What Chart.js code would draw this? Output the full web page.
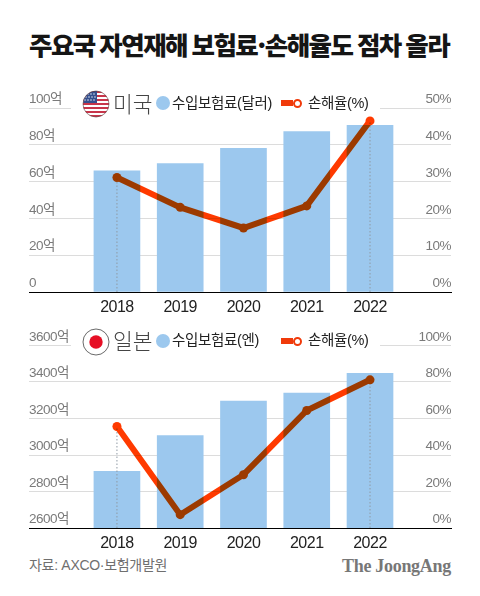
<!DOCTYPE html>
<html lang="ko"><head><meta charset="utf-8">
<script src="https://cdn.jsdelivr.net/npm/chart.js@4"></script>
<style>
html,body{margin:0;padding:0;background:#fff;}
body{width:480px;height:596px;position:relative;overflow:hidden;font-family:"Liberation Sans","Noto Sans CJK KR",sans-serif;}
.abs{position:absolute;white-space:nowrap;line-height:1;}
canvas{position:absolute;left:0;}
.mask{position:absolute;background:#fff;left:71px;width:309px;height:8px;}
.country{font-size:21.5px;color:#444;font-family:"Noto Sans CJK KR";font-weight:300;}
.lg{font-size:14.5px;color:#222;font-family:"Liberation Sans","Noto Sans CJK KR";letter-spacing:-.35px;}
.dot{position:absolute;width:14px;height:14px;border-radius:50%;background:#9cc8ee;}
.bar{position:absolute;width:12px;height:6px;background:#f03a0a;}
.ring{position:absolute;width:5px;height:5px;border-radius:50%;background:#fff;border:2.5px solid #f03a0a;}
</style></head><body>
<div style="position:absolute;left:0;top:80px;width:480px;height:240px"><canvas id="us" width="480" height="240" style="width:480px;height:240px"></canvas></div>
<div style="position:absolute;left:0;top:320px;width:480px;height:232px"><canvas id="jp" width="480" height="232" style="width:480px;height:232px"></canvas></div>
<div class="abs" id="title" style="left:29px;top:25px;font:900 25.5px 'Noto Sans CJK KR';color:#151515;letter-spacing:-1.55px;word-spacing:-1px;">주요국 자연재해 보험료·손해율도 점차 올라</div>

<div class="mask" style="top:105px"></div>
<svg class="abs" style="left:82px;top:90px" width="28" height="28" viewBox="0 0 28 28">
<defs><clipPath id="c"><circle cx="14" cy="14" r="13"/></clipPath></defs>
<g clip-path="url(#c)"><rect width="28" height="28" fill="#fff"/>
<rect y="1" width="28" height="2" fill="#c8354a"/><rect y="5" width="28" height="2" fill="#c8354a"/><rect y="9" width="28" height="2" fill="#c8354a"/><rect y="13" width="28" height="2" fill="#c8354a"/><rect y="17" width="28" height="2" fill="#c8354a"/><rect y="21" width="28" height="2" fill="#c8354a"/><rect y="25" width="28" height="2" fill="#c8354a"/>
<rect width="15" height="13" fill="#35508f"/></g>
<g fill="#fff"><circle cx="6" cy="4" r=".7"/><circle cx="9" cy="4" r=".7"/><circle cx="12" cy="4" r=".7"/><circle cx="4" cy="7" r=".7"/><circle cx="7" cy="7" r=".7"/><circle cx="10" cy="7" r=".7"/><circle cx="13" cy="7" r=".7"/><circle cx="3" cy="10" r=".7"/><circle cx="6" cy="10" r=".7"/><circle cx="9" cy="10" r=".7"/><circle cx="12" cy="10" r=".7"/></g>
<circle cx="14" cy="14" r="13" fill="none" stroke="#5a3a3a" stroke-width=".6"/></svg>
<div class="abs country" style="left:113px;top:92px">미국</div>
<div class="dot" style="left:156px;top:96px"></div>
<div class="abs lg" style="left:172px;top:96px">수입보험료(달러)</div>
<div class="bar" style="left:281px;top:100px"></div><div class="ring" style="left:293px;top:99px"></div>
<div class="abs lg" style="left:308px;top:96px">손해율(%)</div>

<div class="mask" style="top:342px"></div>
<svg class="abs" style="left:82px;top:328px" width="28" height="28" viewBox="0 0 28 28"><circle cx="14" cy="14" r="13" fill="#fff" stroke="#444" stroke-width=".8"/><circle cx="14" cy="14" r="6.7" fill="#e60f25"/></svg>
<div class="abs country" style="left:113px;top:329px">일본</div>
<div class="dot" style="left:156px;top:334px"></div>
<div class="abs lg" style="left:172px;top:333px">수입보험료(엔)</div>
<div class="bar" style="left:281px;top:338px"></div><div class="ring" style="left:293px;top:337px"></div>
<div class="abs lg" style="left:308px;top:333px">손해율(%)</div>

<div class="abs" style="left:29px;top:558px;font-size:14px;color:#6f6f6f;letter-spacing:-.3px;">자료: AXCO·보험개발원</div>
<div class="abs" style="left:342px;top:556px;font:700 18px 'Liberation Serif';color:#777;letter-spacing:-.3px;">The JoongAng</div>

<script>
const years = [2018, 2019, 2020, 2021, 2022];
const usPremium = [65.9, 69.8, 78.1, 87.2, 90.6];
const usLossRatio = [31.1, 23.0, 17.4, 23.4, 46.5];
const jpPremium = [2910, 3107, 3295, 3339, 3447];
const jpLossRatio = [55.6, 7.3, 29.2, 64.4, 81.2];
const usLeftTicks = [0, 20, 40, 60, 80, 100];
const usRightTicks = [0, 10, 20, 30, 40, 50];
const jpLeftTicks = [2600, 2800, 3000, 3200, 3400, 3600];
const jpRightTicks = [0, 20, 40, 60, 80, 100];
const dropYears = [2018, 2022];

const FONT = '"Liberation Sans","Noto Sans CJK KR",sans-serif';
const blend = {
  id: 'blend',
  beforeDraw(c) { c.ctx.letterSpacing = '-0.5px'; },
  beforeDatasetDraw(c, a) { if (c.data.datasets[a.index].label === '손해율(%)') { c.ctx.save(); c.ctx.globalCompositeOperation = 'darken'; } },
  afterDatasetDraw(c, a) { if (c.data.datasets[a.index].label === '손해율(%)') c.ctx.restore(); }
};

function build(id, premium, ratio, leftTicks, rightTicks, leftFmt, topPad, xH) {
  const drops = dropYears.map(yr => ({
    type: 'line', label: 'drop' + yr, yAxisID: 'yR', order: 2, pointRadius: 0,
    borderColor: '#8f9aa5', borderWidth: 1, borderDash: [1.5, 2],
    data: [{ x: yr, y: rightTicks[0] }, { x: yr, y: ratio[years.indexOf(yr)] }]
  }));
  new Chart(document.getElementById(id), {
    data: { datasets: [
      { type: 'bar', label: '수입보험료', yAxisID: 'yL', order: 3, backgroundColor: '#9cc8ee', barThickness: 46,
        data: years.map((x, i) => ({ x, y: premium[i] })) },
      ...drops,
      { type: 'line', label: '손해율(%)', yAxisID: 'yR', order: 1, borderColor: '#ff3a00', backgroundColor: '#ff3a00',
        borderWidth: 6, pointRadius: 4.5, pointBackgroundColor: '#ff3a00', pointBorderWidth: 0, tension: 0, clip: false,
        data: years.map((x, i) => ({ x, y: ratio[i] })) }
    ] },
    plugins: [blend],
    options: {
      responsive: false, animation: false, events: [],
      layout: { padding: { left: 29, right: 29, top: topPad, bottom: 0 } },
      plugins: { legend: { display: false }, tooltip: { enabled: false } },
      scales: {
        x: { type: 'linear', offset: false, min: 2016.61, max: 2023.28,
          afterBuildTicks: ax => { ax.ticks = years.map(value => ({ value })); },
          afterFit: ax => { ax.height = xH; },
          grid: { display: false, drawTicks: false, offset: false },
          border: { display: true, color: '#000', width: 1 },
          ticks: { callback: v => String(v), autoSkip: false, maxRotation: 0, padding: 6, color: '#222', font: { family: FONT, size: 16 } } },
        yL: { type: 'linear', position: 'left', min: leftTicks[0], max: leftTicks[leftTicks.length - 1],
          afterBuildTicks: ax => { ax.ticks = leftTicks.map(value => ({ value })); },
          grid: { color: '#dcdcdc', lineWidth: 1, drawTicks: false }, border: { display: false },
          ticks: { mirror: true, padding: 0, labelOffset: -8.5, color: '#7a7a7a', callback: leftFmt, font: { family: FONT, size: 13.5 } } },
        yR: { type: 'linear', position: 'right', min: rightTicks[0], max: rightTicks[rightTicks.length - 1],
          afterBuildTicks: ax => { ax.ticks = rightTicks.map(value => ({ value })); },
          grid: { display: false, drawTicks: false }, border: { display: false },
          ticks: { mirror: true, padding: 0, labelOffset: -8.5, color: '#7a7a7a', callback: v => v + '%', font: { family: FONT, size: 13.5 } } }
      }
    }
  });
}
build('us', usPremium, usLossRatio, usLeftTicks, usRightTicks, v => v === 0 ? '0' : v + '억', 28, 28);
build('jp', jpPremium, jpLossRatio, jpLeftTicks, jpRightTicks, v => v + '억', 25.5, 24);
</script>
</body></html>
